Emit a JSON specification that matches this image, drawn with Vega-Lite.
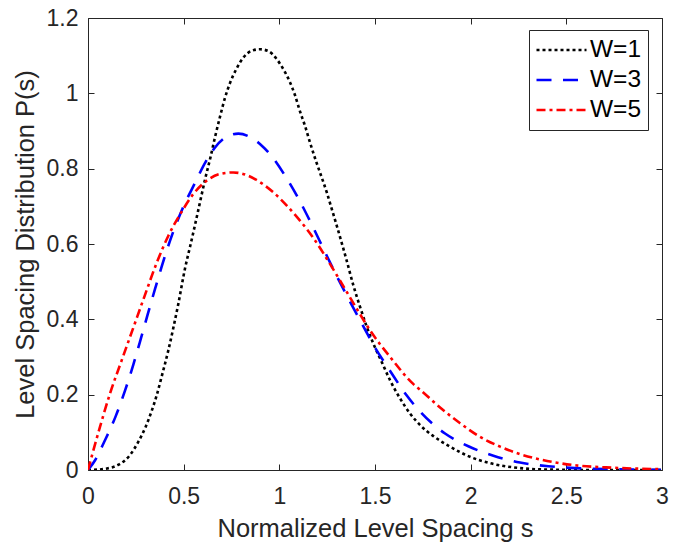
{
  "$schema": "https://vega.github.io/schema/vega-lite/v6.json",
  "width": 574,
  "height": 452,
  "autosize": "none",
  "padding": {"left": 88, "top": 18, "right": 29, "bottom": 74},
  "background": "white",
  "config": {
    "view": {"stroke": null},
    "font": "Liberation Sans",
    "axis": {
      "grid": false,
      "domainColor": "#262626",
      "domainWidth": 1,
      "tickColor": "#262626",
      "tickWidth": 1,
      "tickSize": -6,
      "labelColor": "#262626",
      "labelFont": "Liberation Sans",
      "labelFontSize": 23,
      "titleFont": "Liberation Sans",
      "titleFontSize": 25.5,
      "titleFontWeight": "normal",
      "titleColor": "#262626"
    }
  },
  "data": {
    "values": [
      {"W": "W=1", "s": 0, "p": 0},
      {"W": "W=1", "s": 0.05, "p": 0.001},
      {"W": "W=1", "s": 0.1, "p": 0.004},
      {"W": "W=1", "s": 0.16, "p": 0.014},
      {"W": "W=1", "s": 0.22, "p": 0.04},
      {"W": "W=1", "s": 0.26, "p": 0.072},
      {"W": "W=1", "s": 0.3, "p": 0.113},
      {"W": "W=1", "s": 0.333, "p": 0.157},
      {"W": "W=1", "s": 0.36, "p": 0.2},
      {"W": "W=1", "s": 0.385, "p": 0.248},
      {"W": "W=1", "s": 0.42, "p": 0.318},
      {"W": "W=1", "s": 0.445, "p": 0.375},
      {"W": "W=1", "s": 0.472, "p": 0.441},
      {"W": "W=1", "s": 0.507, "p": 0.535},
      {"W": "W=1", "s": 0.533, "p": 0.592},
      {"W": "W=1", "s": 0.559, "p": 0.65},
      {"W": "W=1", "s": 0.585, "p": 0.71},
      {"W": "W=1", "s": 0.612, "p": 0.772},
      {"W": "W=1", "s": 0.64, "p": 0.83},
      {"W": "W=1", "s": 0.664, "p": 0.884},
      {"W": "W=1", "s": 0.69, "p": 0.938},
      {"W": "W=1", "s": 0.716, "p": 0.988},
      {"W": "W=1", "s": 0.742, "p": 1.027},
      {"W": "W=1", "s": 0.777, "p": 1.066},
      {"W": "W=1", "s": 0.812, "p": 1.095},
      {"W": "W=1", "s": 0.856, "p": 1.113},
      {"W": "W=1", "s": 0.899, "p": 1.117},
      {"W": "W=1", "s": 0.943, "p": 1.112},
      {"W": "W=1", "s": 0.986, "p": 1.091},
      {"W": "W=1", "s": 1.021, "p": 1.064},
      {"W": "W=1", "s": 1.056, "p": 1.029},
      {"W": "W=1", "s": 1.082, "p": 0.995},
      {"W": "W=1", "s": 1.108, "p": 0.952},
      {"W": "W=1", "s": 1.134, "p": 0.914},
      {"W": "W=1", "s": 1.16, "p": 0.87},
      {"W": "W=1", "s": 1.187, "p": 0.827},
      {"W": "W=1", "s": 1.213, "p": 0.789},
      {"W": "W=1", "s": 1.248, "p": 0.737},
      {"W": "W=1", "s": 1.274, "p": 0.693},
      {"W": "W=1", "s": 1.3, "p": 0.649},
      {"W": "W=1", "s": 1.326, "p": 0.603},
      {"W": "W=1", "s": 1.352, "p": 0.556},
      {"W": "W=1", "s": 1.387, "p": 0.49},
      {"W": "W=1", "s": 1.422, "p": 0.433},
      {"W": "W=1", "s": 1.457, "p": 0.38},
      {"W": "W=1", "s": 1.491, "p": 0.336},
      {"W": "W=1", "s": 1.535, "p": 0.287},
      {"W": "W=1", "s": 1.579, "p": 0.238},
      {"W": "W=1", "s": 1.631, "p": 0.19},
      {"W": "W=1", "s": 1.683, "p": 0.15},
      {"W": "W=1", "s": 1.74, "p": 0.117},
      {"W": "W=1", "s": 1.805, "p": 0.09},
      {"W": "W=1", "s": 1.892, "p": 0.062},
      {"W": "W=1", "s": 1.997, "p": 0.035},
      {"W": "W=1", "s": 2.101, "p": 0.018},
      {"W": "W=1", "s": 2.223, "p": 0.007},
      {"W": "W=1", "s": 2.345, "p": 0.002},
      {"W": "W=1", "s": 2.5, "p": 0.0005},
      {"W": "W=1", "s": 2.7, "p": 0},
      {"W": "W=1", "s": 3.0, "p": 0},
      {"W": "W=3", "s": 0, "p": 0},
      {"W": "W=3", "s": 0.037, "p": 0.026},
      {"W": "W=3", "s": 0.085, "p": 0.075},
      {"W": "W=3", "s": 0.145, "p": 0.143},
      {"W": "W=3", "s": 0.193, "p": 0.21},
      {"W": "W=3", "s": 0.237, "p": 0.28},
      {"W": "W=3", "s": 0.277, "p": 0.35},
      {"W": "W=3", "s": 0.312, "p": 0.413},
      {"W": "W=3", "s": 0.35, "p": 0.48},
      {"W": "W=3", "s": 0.385, "p": 0.54},
      {"W": "W=3", "s": 0.44, "p": 0.625},
      {"W": "W=3", "s": 0.495, "p": 0.695},
      {"W": "W=3", "s": 0.556, "p": 0.759},
      {"W": "W=3", "s": 0.617, "p": 0.82},
      {"W": "W=3", "s": 0.665, "p": 0.857},
      {"W": "W=3", "s": 0.713, "p": 0.881},
      {"W": "W=3", "s": 0.75, "p": 0.89},
      {"W": "W=3", "s": 0.786, "p": 0.893},
      {"W": "W=3", "s": 0.847, "p": 0.884},
      {"W": "W=3", "s": 0.9, "p": 0.865},
      {"W": "W=3", "s": 0.955, "p": 0.836},
      {"W": "W=3", "s": 1.035, "p": 0.777},
      {"W": "W=3", "s": 1.108, "p": 0.713},
      {"W": "W=3", "s": 1.169, "p": 0.652},
      {"W": "W=3", "s": 1.242, "p": 0.575},
      {"W": "W=3", "s": 1.3, "p": 0.515},
      {"W": "W=3", "s": 1.361, "p": 0.455},
      {"W": "W=3", "s": 1.431, "p": 0.389},
      {"W": "W=3", "s": 1.5, "p": 0.325},
      {"W": "W=3", "s": 1.579, "p": 0.263},
      {"W": "W=3", "s": 1.661, "p": 0.201},
      {"W": "W=3", "s": 1.736, "p": 0.155},
      {"W": "W=3", "s": 1.8, "p": 0.123},
      {"W": "W=3", "s": 1.866, "p": 0.097},
      {"W": "W=3", "s": 1.988, "p": 0.063},
      {"W": "W=3", "s": 2.119, "p": 0.038},
      {"W": "W=3", "s": 2.258, "p": 0.02},
      {"W": "W=3", "s": 2.406, "p": 0.01},
      {"W": "W=3", "s": 2.546, "p": 0.005},
      {"W": "W=3", "s": 2.75, "p": 0.002},
      {"W": "W=3", "s": 3.0, "p": 0.0005},
      {"W": "W=5", "s": 0, "p": 0},
      {"W": "W=5", "s": 0.063, "p": 0.115},
      {"W": "W=5", "s": 0.115, "p": 0.203},
      {"W": "W=5", "s": 0.176, "p": 0.291},
      {"W": "W=5", "s": 0.237, "p": 0.378},
      {"W": "W=5", "s": 0.298, "p": 0.465},
      {"W": "W=5", "s": 0.359, "p": 0.55},
      {"W": "W=5", "s": 0.42, "p": 0.622},
      {"W": "W=5", "s": 0.49, "p": 0.686},
      {"W": "W=5", "s": 0.551, "p": 0.733},
      {"W": "W=5", "s": 0.62, "p": 0.768},
      {"W": "W=5", "s": 0.69, "p": 0.786},
      {"W": "W=5", "s": 0.76, "p": 0.79},
      {"W": "W=5", "s": 0.829, "p": 0.783},
      {"W": "W=5", "s": 0.899, "p": 0.764},
      {"W": "W=5", "s": 0.969, "p": 0.737},
      {"W": "W=5", "s": 1.039, "p": 0.702},
      {"W": "W=5", "s": 1.108, "p": 0.662},
      {"W": "W=5", "s": 1.178, "p": 0.616},
      {"W": "W=5", "s": 1.248, "p": 0.561},
      {"W": "W=5", "s": 1.317, "p": 0.503},
      {"W": "W=5", "s": 1.4, "p": 0.432},
      {"W": "W=5", "s": 1.474, "p": 0.371},
      {"W": "W=5", "s": 1.579, "p": 0.3},
      {"W": "W=5", "s": 1.701, "p": 0.228},
      {"W": "W=5", "s": 1.736, "p": 0.213},
      {"W": "W=5", "s": 1.84, "p": 0.166},
      {"W": "W=5", "s": 1.945, "p": 0.124},
      {"W": "W=5", "s": 2.049, "p": 0.088},
      {"W": "W=5", "s": 2.154, "p": 0.062},
      {"W": "W=5", "s": 2.258, "p": 0.042},
      {"W": "W=5", "s": 2.363, "p": 0.028},
      {"W": "W=5", "s": 2.467, "p": 0.018},
      {"W": "W=5", "s": 2.555, "p": 0.012},
      {"W": "W=5", "s": 2.75, "p": 0.006},
      {"W": "W=5", "s": 3.0, "p": 0.002}
    ]
  },
  "layer": [
    {
      "mark": {"type": "line", "strokeWidth": 2.6, "interpolate": "monotone", "clip": true},
      "encoding": {
        "x": {
          "field": "s", "type": "quantitative",
          "scale": {"domain": [0, 3], "nice": false},
          "axis": {"orient": "bottom", "values": [0, 0.5, 1, 1.5, 2, 2.5, 3], "format": "~g", "labelPadding": 21, "title": "Normalized Level Spacing s", "titlePadding": 8, "labelFlush": false}
        },
        "y": {
          "field": "p", "type": "quantitative",
          "scale": {"domain": [0, 1.2], "nice": false},
          "axis": {"orient": "left", "values": [0, 0.2, 0.4, 0.6, 0.8, 1, 1.2], "format": "~g", "labelPadding": 16, "title": "Level Spacing Distribution P(s)", "titlePadding": 8, "labelFlush": false}
        },
        "color": {
          "field": "W", "type": "nominal",
          "scale": {"domain": ["W=1", "W=3", "W=5"], "range": ["#000000", "#0000FF", "#FF0000"]},
          "legend": {
            "title": null, "orient": "none", "legendX": 441, "legendY": 12,
            "strokeColor": "#262626", "fillColor": "white", "padding": 6,
            "symbolType": "stroke", "symbolSize": 2500, "symbolStrokeWidth": 2.6,
            "labelFontSize": 24.5, "labelFont": "Liberation Sans", "labelColor": "#000000",
            "labelOffset": 2, "rowPadding": 2, "clipHeight": 28
          }
        },
        "strokeDash": {
          "field": "W", "type": "nominal",
          "scale": {"domain": ["W=1", "W=3", "W=5"], "range": [[3, 3], [15, 11.5], [9, 4, 3, 4]]},
          "legend": {
            "title": null, "orient": "none", "legendX": 441, "legendY": 12,
            "strokeColor": "#262626", "fillColor": "white", "padding": 6,
            "symbolType": "stroke", "symbolSize": 2500, "symbolStrokeWidth": 2.6,
            "labelFontSize": 24.5, "labelFont": "Liberation Sans", "labelColor": "#000000",
            "labelOffset": 2, "rowPadding": 2, "clipHeight": 28
          }
        }
      }
    },
    {
      "mark": {"type": "line", "opacity": 0},
      "encoding": {
        "x": {
          "field": "s", "type": "quantitative",
          "scale": {"domain": [0, 3], "nice": false},
          "axis": {"orient": "top", "values": [0, 0.5, 1, 1.5, 2, 2.5, 3], "labels": false, "title": null}
        },
        "y": {
          "field": "p", "type": "quantitative",
          "scale": {"domain": [0, 1.2], "nice": false},
          "axis": {"orient": "right", "values": [0, 0.2, 0.4, 0.6, 0.8, 1, 1.2], "labels": false, "title": null}
        },
        "detail": {"field": "W"}
      }
    }
  ],
  "resolve": {"axis": {"x": "independent", "y": "independent"}}
}
